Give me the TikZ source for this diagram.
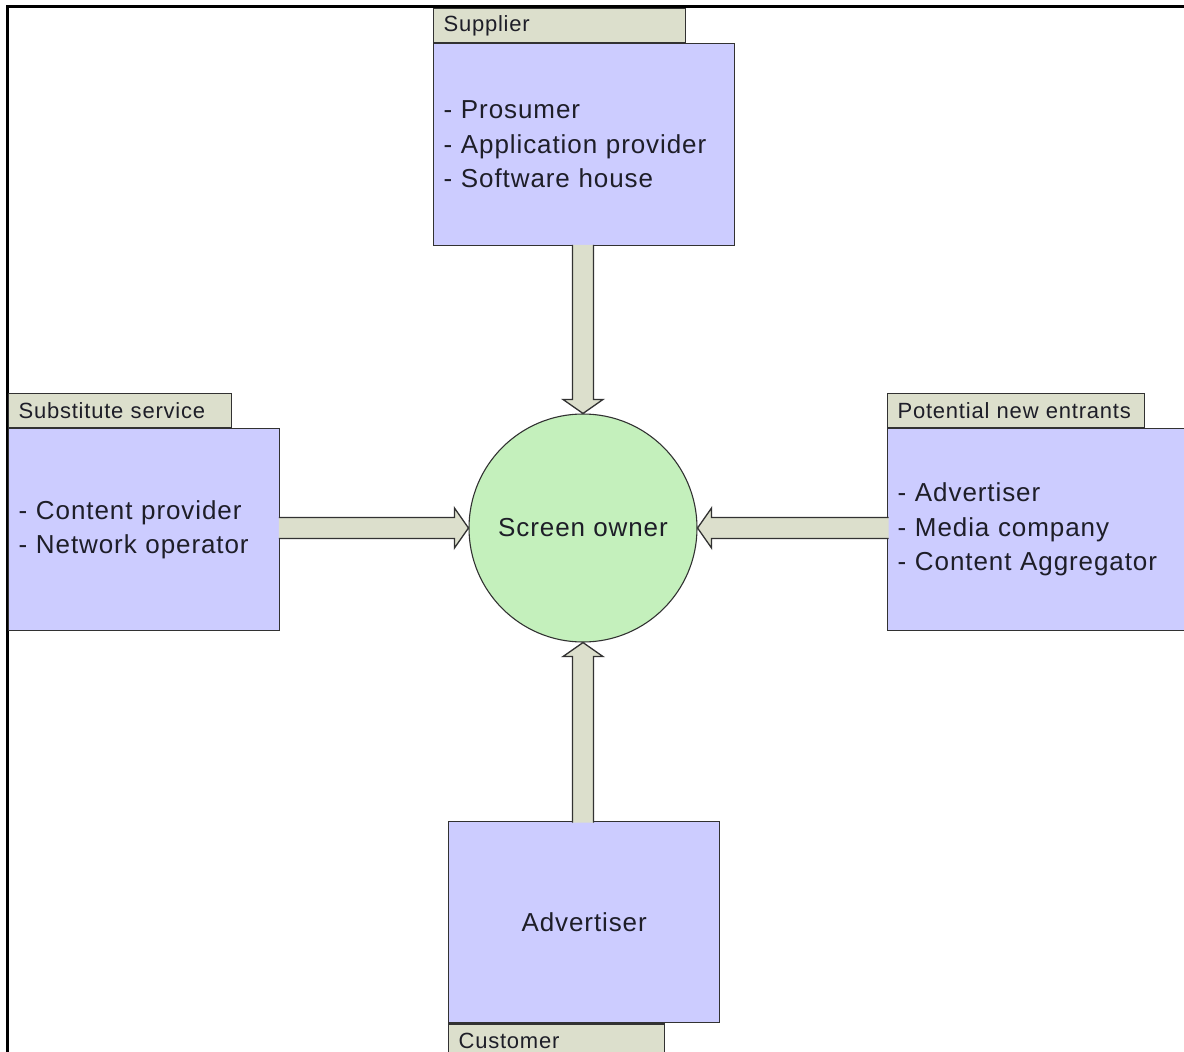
\documentclass[tikz,border=0pt]{standalone}
\usepackage{fontspec}
\setmainfont{Liberation Sans}[LetterSpace=3.5]
\usetikzlibrary{calc}

\definecolor{boxblue}{RGB}{204,204,255}
\definecolor{tabgray}{RGB}{220,223,204}
\definecolor{ownergreen}{RGB}{196,240,188}
\definecolor{edgegray}{RGB}{50,50,50}
\definecolor{inkdark}{RGB}{30,30,40}

\tikzset{
  party/.style={rectangle, draw=edgegray, fill=boxblue, line width=1.3pt,
    inner xsep=10pt, inner ysep=0pt, align=left, text=inkdark,
    font=\fontsize{26}{34.5}\selectfont},
  tabbox/.style={rectangle, draw=edgegray, fill=tabgray, line width=1.3pt,
    inner xsep=10pt, inner ysep=0pt, minimum height=34pt, align=left,
    text=inkdark, font=\fontsize{22}{26}\selectfont},
  owner/.style={circle, draw=edgegray, fill=ownergreen, line width=1.1pt,
    minimum size=228pt, inner sep=0pt, text=inkdark,
    font=\fontsize{26}{30}\selectfont},
  arrowbody/.style={draw=edgegray, fill=tabgray, line width=1.3pt, line join=miter}
}

% block arrow from the edge of a box to the rim of the circle
\newcommand\fatarrow[2]{%
  \coordinate (fa-s) at ($(#1)!-1.5pt!(#2)$);
  \coordinate (fa-h) at ($(#2)!14pt!(#1)$);
  \filldraw[arrowbody]
    ($(fa-s)!10.5pt!90:(#2)$) -- ($(fa-h)!10.5pt!90:(#2)$)
    -- ($(fa-h)!20pt!90:(#2)$) -- (#2)
    -- ($(fa-h)!20pt!-90:(#2)$) -- ($(fa-h)!10.5pt!-90:(#2)$)
    -- ($(fa-s)!10.5pt!-90:(#2)$);
}

\begin{document}
\begin{tikzpicture}[x=1pt,y=-1pt]
  \useasboundingbox (0,0) rectangle (1184,1052);
  \clip (0,0) rectangle (1184,1052);

  % frame lines
  \draw[line width=3pt] (1190,6) -- (7,6) -- (7,1060);

  % supplier
  \node[party, text width=281pt, minimum height=202pt, anchor=north west]
    (sup) at (433,43) {- Prosumer\\- Application provider\\- Software house};
  \node[tabbox, text width=232pt, anchor=south west] (suptab) at (sup.north west) {Supplier};

  % substitute service
  \node[party, text width=251pt, minimum height=202pt, anchor=north west]
    (sub) at (8,428) {- Content provider\\- Network operator};
  \node[tabbox, text width=203pt, anchor=south west] (subtab) at (sub.north west) {Substitute service};

  % potential new entrants
  \node[party, text width=290pt, minimum height=202pt, anchor=north west]
    (ent) at (887,428) {- Advertiser\\- Media company\\- Content Aggregator};
  \node[tabbox, text width=237pt, anchor=south west] (enttab) at (ent.north west) {Potential new entrants};

  % customer
  \node[party, text width=251pt, minimum height=201pt, align=center, anchor=north west]
    (cus) at (448,821) {Advertiser};
  \node[tabbox, text width=196pt, anchor=north west] (custab) at (cus.south west) {Customer};

  % screen owner
  \node[owner] (own) at (583,528) {Screen owner};

  % forces acting on the screen owner
  \fatarrow{sup.south -| own.north}{own.north}
  \fatarrow{sub.east |- own.west}{own.west}
  \fatarrow{ent.west |- own.east}{own.east}
  \fatarrow{cus.north -| own.south}{own.south}
\end{tikzpicture}
\end{document}
